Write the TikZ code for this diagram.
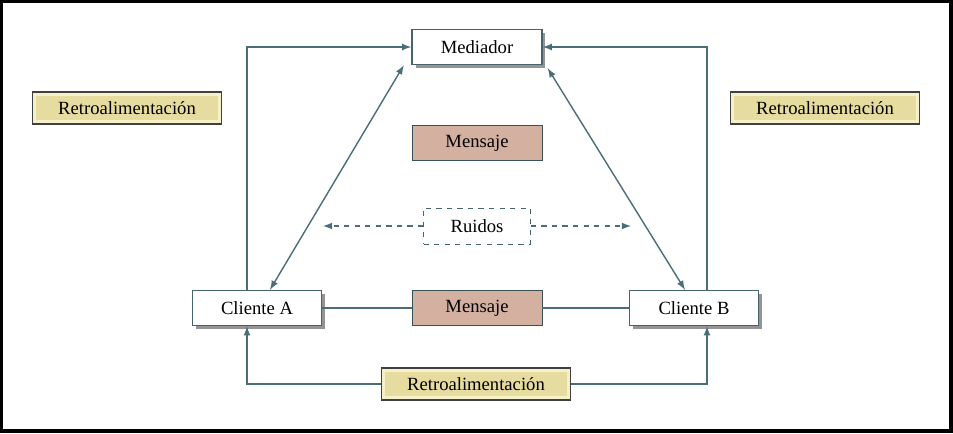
\documentclass[tikz,border=0pt]{standalone}
\usepackage{fontspec}
\setmainfont{Liberation Serif}
\usepackage{tikz}
\usepackage{xcolor}
\usetikzlibrary{arrows}
\usetikzlibrary{shadows}
\usetikzlibrary{positioning}

\definecolor{linea}{RGB}{74,110,120}
\definecolor{borde}{RGB}{70,100,110}
\definecolor{retro}{RGB}{230,220,160}
\definecolor{retroluz}{RGB}{245,240,200}
\definecolor{mensaje}{RGB}{212,176,160}

\begin{document}
\begin{tikzpicture}[x=0.02cm,y=-0.02cm, font=\fontsize{10.6}{12}\selectfont,
        caja/.style={draw=borde, fill=white, thick, minimum width=2.6cm, minimum height=0.7cm,
            drop shadow={shadow xshift=0.7mm, shadow yshift=-0.7mm, opacity=0.6, fill=black!70}},
        msj/.style={draw=borde!80!black, fill=mensaje, minimum width=2.6cm, minimum height=0.7cm},
        retrobox/.style={draw=black!75, fill=retro, line width=1pt, minimum width=3.78cm, minimum height=0.64cm,
            path picture={\draw[retroluz, line width=1.6pt]
                ([shift={(1.3pt,1.3pt)}]path picture bounding box.south west) rectangle
                ([shift={(-1.3pt,-1.3pt)}]path picture bounding box.north east);}},
        ruido/.style={draw=borde, dashed, minimum width=2.14cm, minimum height=0.72cm},
        flecha/.style={linea, line width=0.8pt, -latex}]
        \useasboundingbox (0,0) rectangle (953,433);
        \draw[line width=2pt] (1,1) rectangle (951,431);

        \node[caja] (med) at (477,47) {Mediador};
        \node[msj] (msjA) at (477,143) {Mensaje};
        \node[ruido] (ruid) at (477,226) {Ruidos};
        \node[caja, minimum width=2.58cm] (cliA) at (257,308) {Cliente A};
        \node[msj] (msjB) at (477,308) {Mensaje};
        \node[caja, minimum width=2.58cm] (cliB) at (694,308) {Cliente B};
        \node[retrobox] (retI) at (127,108) {Retroalimentación};
        \node[retrobox] (retD) at (825,108) {Retroalimentación};
        \node[retrobox] (retB) at (476,384) {Retroalimentación};

        \coordinate (ruidI) at (323,226);
        \coordinate (ruidD) at (631,226);

        % retroalimentacion arriba
        \draw[flecha] ([xshift=-0.2cm]cliA.north) |- (med.west);
        \draw[flecha] ([xshift=0.26cm]cliB.north) |- (med.east);
        % retroalimentacion abajo
        \draw[flecha] (retB.west) -| ([xshift=-0.2cm]cliA.south);
        \draw[flecha] (retB.east) -| ([xshift=0.26cm]cliB.south);
        % canal
        \draw[flecha, latex-latex] ([xshift=-0.15cm]med.south west) -- ([xshift=0.26cm]cliA.north);
        \draw[flecha, latex-latex] ([xshift=0.1cm,yshift=-0.06cm]med.south east) -- ([xshift=-0.18cm]cliB.north);
        \draw[linea, line width=0.8pt] (cliA) -- (msjB) -- (cliB);
        % ruidos
        \draw[flecha, dashed] (ruid.west) -- (ruidI);
        \draw[flecha, dashed] (ruid.east) -- (ruidD);
    \end{tikzpicture}
\end{document}
